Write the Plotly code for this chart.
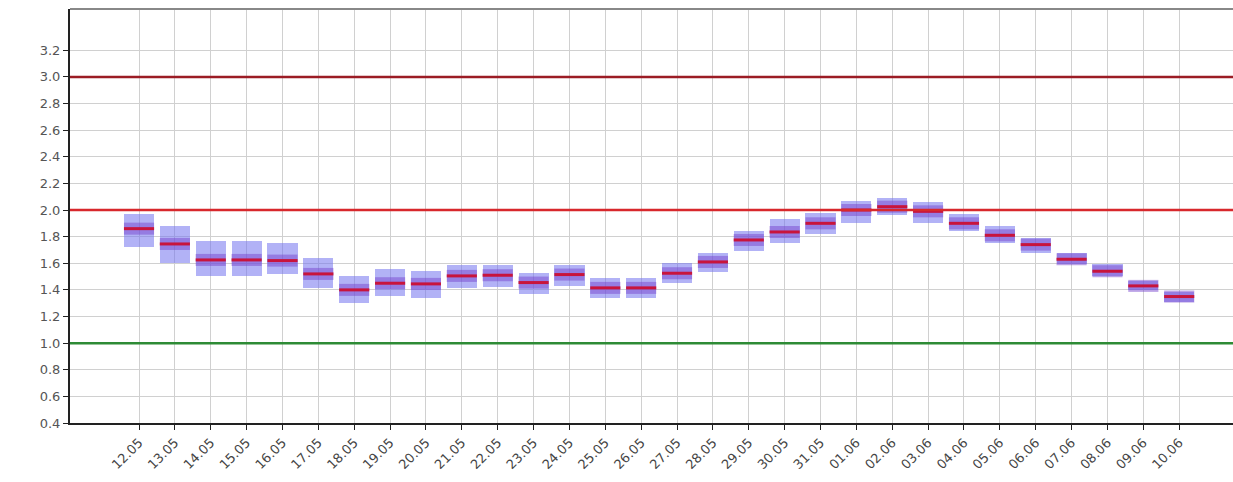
import plotly.graph_objects as go

labels = ["12.05", "13.05", "14.05", "15.05", "16.05", "17.05", "18.05", "19.05", "20.05", "21.05",
          "22.05", "23.05", "24.05", "25.05", "26.05", "27.05", "28.05", "29.05", "30.05", "31.05",
          "01.06", "02.06", "03.06", "04.06", "05.06", "06.06", "07.06", "08.06", "09.06", "10.06"]
median = [1.86, 1.745, 1.625, 1.625, 1.62, 1.52, 1.40, 1.45, 1.445, 1.505,
          1.51, 1.455, 1.515, 1.415, 1.415, 1.525, 1.61, 1.775, 1.835, 1.90,
          2.00, 2.025, 1.99, 1.90, 1.81, 1.74, 1.63, 1.54, 1.43, 1.35]
low = [1.72, 1.60, 1.505, 1.505, 1.52, 1.415, 1.30, 1.355, 1.34, 1.415,
       1.42, 1.37, 1.43, 1.34, 1.34, 1.45, 1.535, 1.69, 1.75, 1.82,
       1.90, 1.96, 1.90, 1.84, 1.75, 1.68, 1.595, 1.505, 1.40, 1.31]
high = [1.97, 1.88, 1.77, 1.77, 1.75, 1.64, 1.505, 1.56, 1.54, 1.59,
        1.59, 1.53, 1.59, 1.49, 1.49, 1.60, 1.68, 1.84, 1.93, 1.98,
        2.07, 2.09, 2.06, 1.97, 1.88, 1.79, 1.68, 1.595, 1.47, 1.385]
ref_lines = [3.0, 2.0, 1.0]
ref_colors = ["#9b1c24", "#d8282c", "#2e8b35"]
y_ticks = [0.4, 0.6, 0.8, 1.0, 1.2, 1.4, 1.6, 1.8, 2.0, 2.2, 2.4, 2.6, 2.8, 3.0, 3.2]

xs = list(range(len(labels)))
half = 0.42

fig = go.Figure()

# outer band
fig.add_trace(go.Bar(
    x=xs, y=[h - l for h, l in zip(high, low)], base=low, width=2 * half,
    marker=dict(color="rgba(115,115,238,0.55)", line=dict(width=0)),
    hoverinfo="skip", showlegend=False))

# median segments
mx, my = [], []
for i, m in zip(xs, median):
    mx += [i - half, i + half, None]
    my += [m, m, None]
fig.add_trace(go.Scatter(x=mx, y=my, mode="lines",
                         line=dict(color="rgba(120,70,205,0.5)", width=12),
                         hoverinfo="skip", showlegend=False))
fig.add_trace(go.Scatter(x=mx, y=my, mode="lines",
                         line=dict(color="#c8143c", width=3),
                         hoverinfo="skip", showlegend=False))

for v, c in zip(ref_lines, ref_colors):
    fig.add_shape(type="line", xref="paper", x0=0, x1=1, yref="y", y0=v, y1=v,
                  line=dict(color=c, width=2.5), layer="above")

# top border
fig.add_shape(type="line", xref="paper", x0=0, x1=1, yref="paper", y0=1, y1=1,
              line=dict(color="#888888", width=2))

fig.update_layout(
    width=1233, height=482,
    margin=dict(l=70, r=0, t=9, b=59),
    paper_bgcolor="white", plot_bgcolor="white",
    bargap=0, barmode="overlay",
    font=dict(family="DejaVu Sans", color="#444444", size=12),
)
fig.update_xaxes(
    range=[-1.924, 30.5], tickmode="array", tickvals=xs, ticktext=labels,
    tickangle=-45, tickfont=dict(size=13, color="#444444"), automargin=False,
    showgrid=True, gridcolor="#d0d0d0", gridwidth=1.3,
    showline=True, linecolor="#222222", linewidth=2,
    ticks="outside", ticklen=5, tickcolor="#222222", zeroline=False)
fig.update_yaxes(
    range=[0.4, 3.51], tickmode="array", tickvals=y_ticks,
    ticktext=[f"{t:.1f}" for t in y_ticks], tickfont=dict(size=13, color="#555555"),
    automargin=False,
    showgrid=True, gridcolor="#d0d0d0", gridwidth=1.3,
    showline=True, linecolor="#222222", linewidth=2,
    ticks="outside", ticklen=5, tickcolor="#222222", zeroline=False)

fig.write_html("out.html", config={"displayModeBar": False},
               post_script="document.body.style.margin='0';document.body.style.overflow='hidden';")
